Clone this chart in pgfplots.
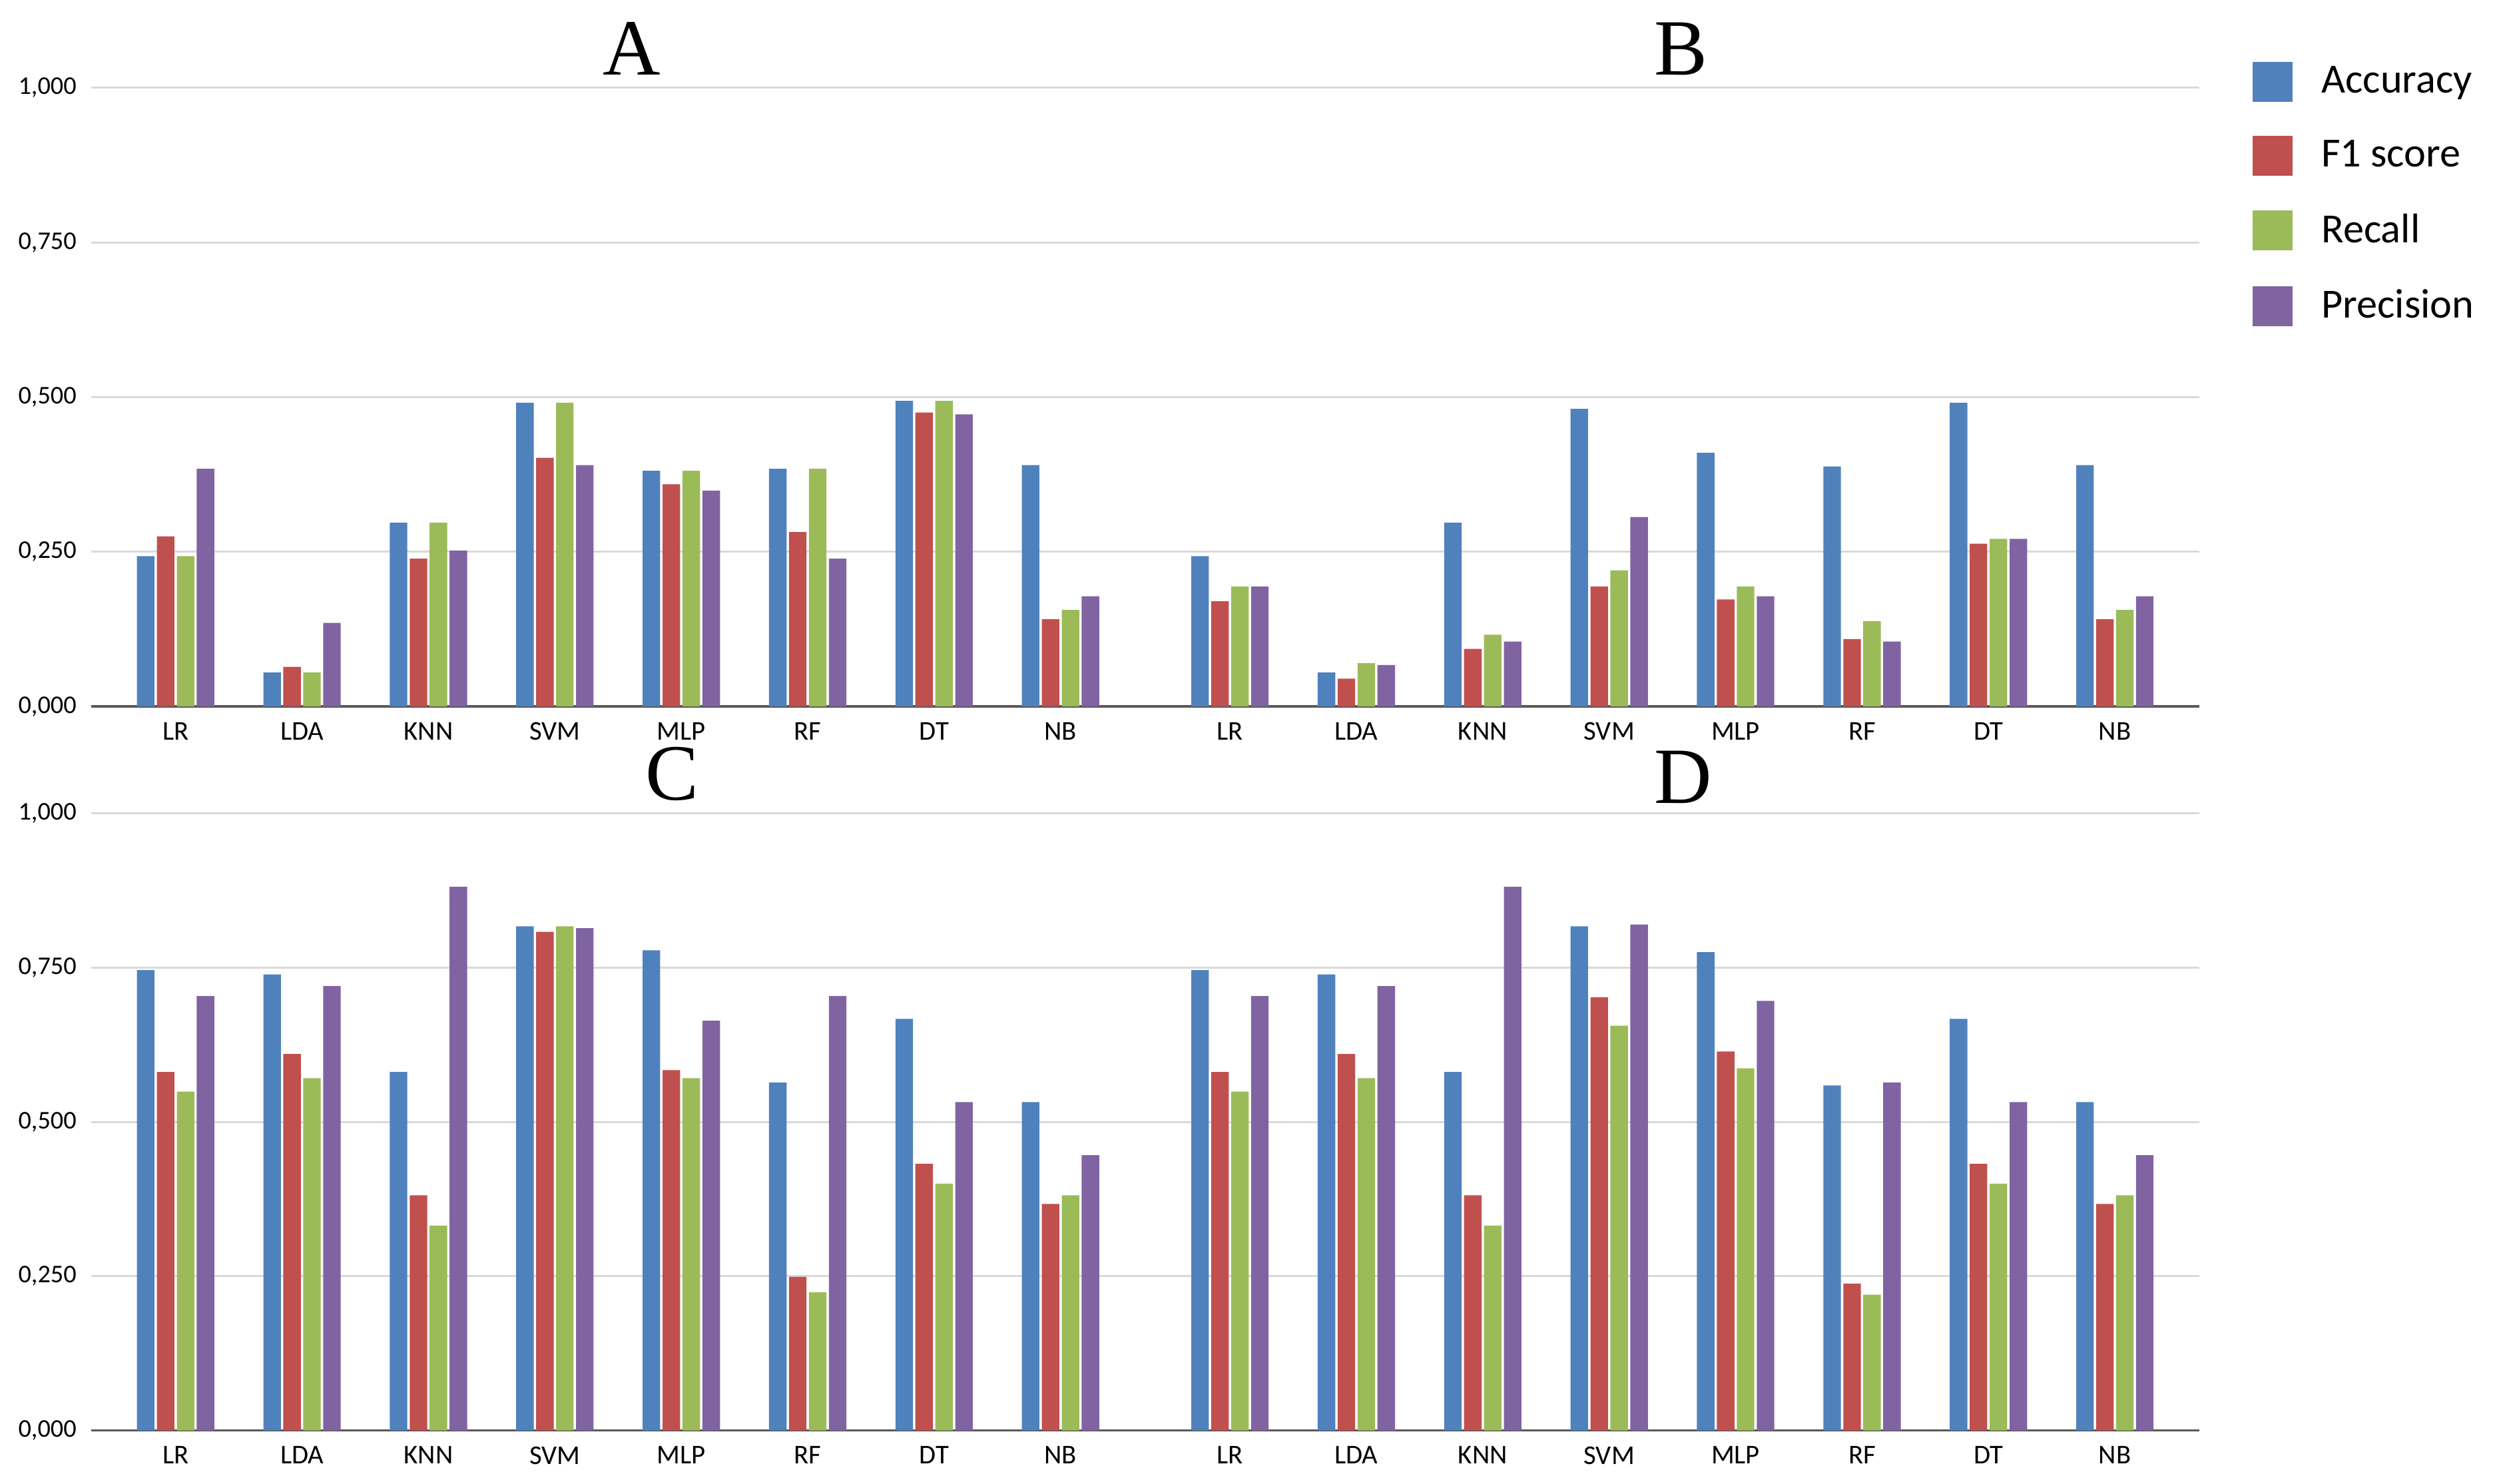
\documentclass[border=0pt]{standalone}
\usepackage{fontspec}
\setmainfont{Carlito}
\newfontfamily\serifletter{Liberation Serif}
\usepackage{pgfplots}
\usepackage{pgfplotstable}
\pgfplotsset{compat=1.18}

\definecolor{cacc}{HTML}{4F81BD}
\definecolor{cfone}{HTML}{C0504D}
\definecolor{crec}{HTML}{9BBB59}
\definecolor{cprec}{HTML}{8064A2}
\definecolor{gridgray}{HTML}{D9D9D9}
\definecolor{axisgray}{HTML}{595959}

% x: 0=LR 1=LDA 2=KNN 3=SVM 4=MLP 5=RF 6=DT 7=NB
\pgfplotstableread{
x acc   f1    rec   prec
0 0.243 0.275 0.243 0.384
1 0.055 0.064 0.055 0.135
2 0.297 0.239 0.297 0.252
3 0.491 0.402 0.491 0.390
4 0.381 0.359 0.381 0.349
5 0.384 0.282 0.384 0.239
6 0.494 0.475 0.494 0.472
7 0.390 0.141 0.156 0.178
}\dataA

\pgfplotstableread{
x acc   f1    rec   prec
0 0.243 0.170 0.194 0.194
1 0.055 0.045 0.070 0.067
2 0.297 0.093 0.116 0.105
3 0.481 0.194 0.220 0.306
4 0.410 0.173 0.194 0.178
5 0.388 0.109 0.138 0.105
6 0.491 0.263 0.271 0.271
7 0.390 0.141 0.156 0.178
}\dataB

\pgfplotstableread{
x acc   f1    rec   prec
0 0.746 0.581 0.549 0.704
1 0.739 0.610 0.571 0.720
2 0.581 0.381 0.332 0.881
3 0.817 0.808 0.817 0.814
4 0.778 0.584 0.571 0.664
5 0.564 0.249 0.224 0.704
6 0.667 0.432 0.400 0.532
7 0.532 0.367 0.381 0.446
}\dataC

\pgfplotstableread{
x acc   f1    rec   prec
0 0.746 0.581 0.549 0.704
1 0.739 0.610 0.571 0.720
2 0.581 0.381 0.332 0.881
3 0.817 0.702 0.656 0.820
4 0.775 0.614 0.587 0.696
5 0.559 0.238 0.220 0.564
6 0.667 0.432 0.400 0.532
7 0.532 0.367 0.381 0.446
}\dataD

\pgfplotsset{
  panel/.style={
    scale only axis, width=330.5pt,
    ybar=0.75pt, bar width=5.5pt,
    xmin=-0.67, xmax=7.67, ymin=0, ymax=1,
    xtick={0,...,7},
    xticklabels={LR,LDA,KNN,SVM,MLP,RF,DT,NB},
    ytick={0,0.25,0.5,0.75,1},
    axis x line*=bottom, axis y line*=left,
    x axis line style={draw=axisgray, line width=0.7pt},
    y axis line style={draw=none},
    major tick length=0pt,
    ymajorgrids, grid style={draw=gridgray, line width=0.6pt},
    yticklabel style={font=\fontsize{8}{9.6}\selectfont, xshift=-1pt},
    xticklabel style={font=\fontsize{8.5}{10}\selectfont, yshift=-1.5pt},
    /pgf/number format/.cd, fixed, fixed zerofill, precision=3, use comma,
      assume math mode=true, /pgfplots/.cd,
    % the default title style already shifts up by 6pt
    title style={font=\serifletter\fontsize{25}{25}\selectfont, anchor=base,
      inner sep=0pt, text height=17pt, text depth=0pt},
  },
  noylabels/.style={yticklabels={}},
  sqlegend/.style={legend image code/.code={\fill[##1] (0pt,-6.25pt) rectangle (12.5pt,6.25pt);}},
}

\newcommand{\bars}[1]{%
  \addplot[fill=cacc, draw=none, sqlegend] table[x=x, y=acc] {#1};
  \addplot[fill=cfone, draw=none, sqlegend] table[x=x, y=f1] {#1};
  \addplot[fill=crec, draw=none, sqlegend] table[x=x, y=rec] {#1};
  \addplot[fill=cprec, draw=none, sqlegend] table[x=x, y=prec] {#1};
}

\begin{document}
\begin{tikzpicture}
\path (0,0) rectangle (784pt,465.25pt);

% A
\begin{axis}[panel, height=194pt, at={(28.5pt,243.75pt)}, anchor=south west,
  title={A}, title style={at={(0.513,1)}, yshift=-1.9pt}]
\bars{\dataA}
\end{axis}

% B
\begin{axis}[panel, noylabels, height=194pt, at={(359pt,243.75pt)}, anchor=south west,
  title={B}, title style={at={(0.508,1)}, yshift=-1.9pt},
  legend style={at={(1,1)}, anchor=north west, xshift=16.5pt, yshift=9pt,
    draw=none, fill=none, inner sep=0pt, row sep=9.3pt,
    font=\fontsize{13}{15.6}\selectfont,
    /tikz/every odd column/.append style={column sep=7pt}},
  legend cell align=left]
\bars{\dataB}
\legend{Accuracy,F1 score,Recall,Precision}
\end{axis}

% C
\begin{axis}[panel, height=193.5pt, at={(28.5pt,16.75pt)}, anchor=south west,
  title={C}, title style={at={(0.551,1)}, yshift=-1.9pt}]
\bars{\dataC}
\end{axis}

% D
\begin{axis}[panel, noylabels, height=193.5pt, at={(359pt,16.75pt)}, anchor=south west,
  title={D}, title style={at={(0.510,1)}, yshift=-2.9pt}]
\bars{\dataD}
\end{axis}
\end{tikzpicture}
\end{document}
